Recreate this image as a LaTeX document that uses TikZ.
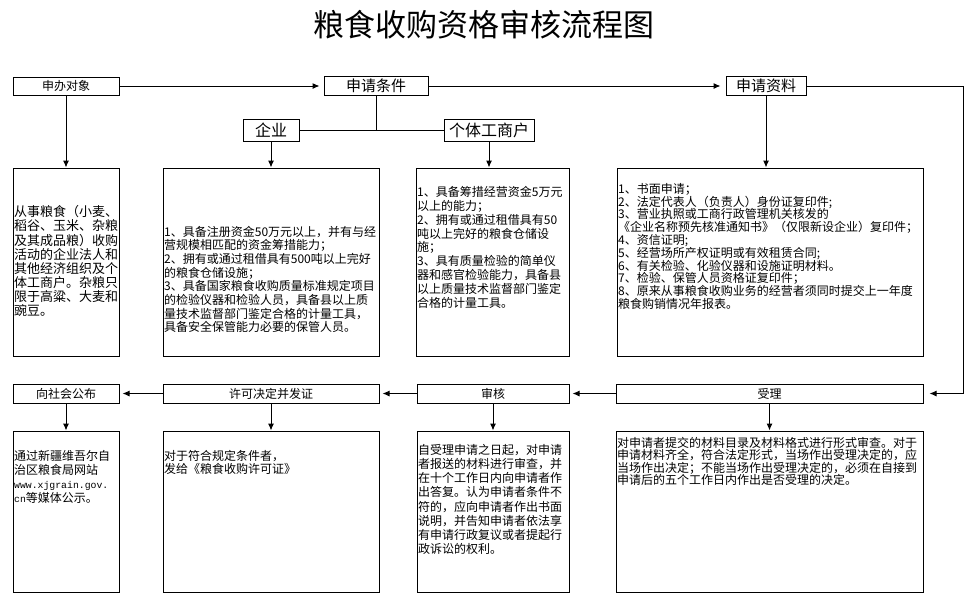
\documentclass[tikz,border=0pt]{standalone}
\usepackage{fontspec}
\newfontfamily\cjk{Noto Sans CJK SC}
\newfontfamily\mono{Liberation Mono}
\usetikzlibrary{arrows.meta}
\tikzset{
  hbox/.style={draw, line width=1pt, inner sep=0pt, minimum height=19pt, font=\cjk\fontsize{12}{14}\selectfont},
  cbox/.style={draw, line width=1pt, inner sep=0pt},
  txt/.style={anchor=north west, inner sep=0pt, align=left, font=\cjk\fontsize{12}{13.8}\selectfont},
  arr/.style={line width=1pt, -{Latex[length=7pt,width=6pt]}},
  ln/.style={line width=1pt}
}
\begin{document}
\begin{tikzpicture}[x=1pt,y=-1pt]
\useasboundingbox (0,0) rectangle (974,598);
\node[font=\cjk\fontsize{31}{35}\selectfont] (title) at (484,25) {粮食收购资格审核流程图};

\node[hbox, minimum width=106pt, minimum height=18pt] (obj) at (66,86) {申办对象};
\node[hbox, minimum width=104pt, font=\cjk\fontsize{15}{17}\selectfont] (cond) at (376,86) {申请条件};
\node[hbox, minimum width=80pt, font=\cjk\fontsize{15}{17}\selectfont] (mat) at (766,86) {申请资料};
\node[hbox, minimum width=56pt, minimum height=22pt, font=\cjk\fontsize{16}{18}\selectfont] (ent) at (271,130) {企业};
\node[hbox, minimum width=90pt, minimum height=22pt, font=\cjk\fontsize{16}{18}\selectfont] (ind) at (489,130) {个体工商户};

\node[cbox, minimum width=106pt, minimum height=188pt] (objbox) at (66,262) {};
\node[cbox, minimum width=216pt, minimum height=188pt] (entbox) at (271,262) {};
\node[cbox, minimum width=153pt, minimum height=188pt] (indbox) at (492.5,262) {};
\node[cbox, minimum width=306pt, minimum height=188pt] (matbox) at (770,262) {};

\node[hbox, minimum width=106pt] (pub) at (66,393.5) {向社会公布};
\node[hbox, minimum width=216pt] (lic) at (271,393.5) {许可决定并发证};
\node[hbox, minimum width=152pt] (rev) at (493,393.5) {审核};
\node[hbox, minimum width=307pt] (acc) at (769.5,393.5) {受理};

\node[cbox, minimum width=106pt, minimum height=161pt] (pubbox) at (66,511.5) {};
\node[cbox, minimum width=216pt, minimum height=161pt] (licbox) at (271,511.5) {};
\node[cbox, minimum width=152pt, minimum height=161pt] (revbox) at (493,511.5) {};
\node[cbox, minimum width=307pt, minimum height=161pt] (accbox) at (769.5,511.5) {};

\node[txt, font=\cjk\fontsize{13}{14.1}\selectfont] (objtxt) at (14,205.5) {从事粮食（小麦、\\稻谷、玉米、杂粮\\及其成品粮）收购\\活动的企业法人和\\其他经济组织及个\\体工商户。杂粮只\\限于高粱、大麦和\\豌豆。};
\node[txt, font=\cjk\fontsize{12}{13.7}\selectfont] (enttxt) at (164,225.7) {1、具备注册资金50万元以上，并有与经\\营规模相匹配的资金筹措能力；\\2、拥有或通过租借具有500吨以上完好\\的粮食仓储设施；\\3、具备国家粮食收购质量标准规定项目\\的检验仪器和检验人员，具备县以上质\\量技术监督部门鉴定合格的计量工具，\\具备安全保管能力必要的保管人员。};
\node[txt, font=\cjk\fontsize{12}{13.9}\selectfont] (indtxt) at (417,186) {1、具备筹措经营资金5万元\\以上的能力；\\2、拥有或通过租借具有50\\吨以上完好的粮食仓储设\\施；\\3、具有质量检验的简单仪\\器和感官检验能力，具备县\\以上质量技术监督部门鉴定\\合格的计量工具。};
\node[txt, font=\cjk\fontsize{12}{12.8}\selectfont] (mattxt) at (618,183) {1、书面申请；\\2、法定代表人（负责人）身份证复印件;\\3、营业执照或工商行政管理机关核发的\\《企业名称预先核准通知书》（仅限新设企业）复印件；\\4、资信证明;\\5、经营场所产权证明或有效租赁合同;\\6、有关检验、化验仪器和设施证明材料。\\7、检验、保管人员资格证复印件；\\8、原来从事粮食收购业务的经营者须同时提交上一年度\\粮食购销情况年报表。};

\node[txt, font=\cjk\fontsize{12}{13.9}\selectfont] (pubtxt) at (14,450) {通过新疆维吾尔自\\治区粮食局网站\\{\mono\fontsize{9.8}{13.9}\selectfont www.xjgrain.gov.}\\{\mono\fontsize{9.8}{13.9}\selectfont cn}等媒体公示。};
\node[txt, font=\cjk\fontsize{12}{13.3}\selectfont] (lictxt) at (164,450) {对于符合规定条件者，\\发给《粮食收购许可证》};
\node[txt, font=\cjk\fontsize{12}{14.2}\selectfont] (revtxt) at (418,444) {自受理申请之日起，对申请\\者报送的材料进行审查，并\\在十个工作日内向申请者作\\出答复。认为申请者条件不\\符的，应向申请者作出书面\\说明，并告知申请者依法享\\有申请行政复议或者提起行\\政诉讼的权利。};
\node[txt, font=\cjk\fontsize{12}{12.5}\selectfont] (acctxt) at (617,437) {对申请者提交的材料目录及材料格式进行形式审查。对于\\申请材料齐全，符合法定形式，当场作出受理决定的，应\\当场作出决定；不能当场作出受理决定的，必须在自接到\\申请后的五个工作日内作出是否受理的决定。};

\draw[arr, shorten >=4pt] (obj.east) -- (cond.west);
\draw[arr, shorten >=5pt] (cond.east) -- (mat.west);
\draw[arr, shorten >=6pt] (mat.east) -| ([xshift=40pt]acc.east) -- (acc.east);
\draw[ln] (cond.south) -- (cond.south |- ent.east);
\draw[ln] (ent.east) -- (ind.west);
\draw[arr] (obj.south) -- (objbox.north);
\draw[arr] (ent.south) -- (entbox.north);
\draw[arr] (ind.south) -- (ind.south |- indbox.north);
\draw[arr] (mat.south) -- (mat.south |- matbox.north);

\draw[arr, shorten >=3pt] (acc.west) -- (rev.east);
\draw[arr, shorten >=3pt] (rev.west) -- (lic.east);
\draw[arr, shorten >=3pt] (lic.west) -- (pub.east);
\draw[arr] (pub.south) -- (pubbox.north);
\draw[arr] (lic.south) -- (licbox.north);
\draw[arr] (rev.south) -- (revbox.north);
\draw[arr] (acc.south) -- (acc.south |- accbox.north);
\end{tikzpicture}
\end{document}
